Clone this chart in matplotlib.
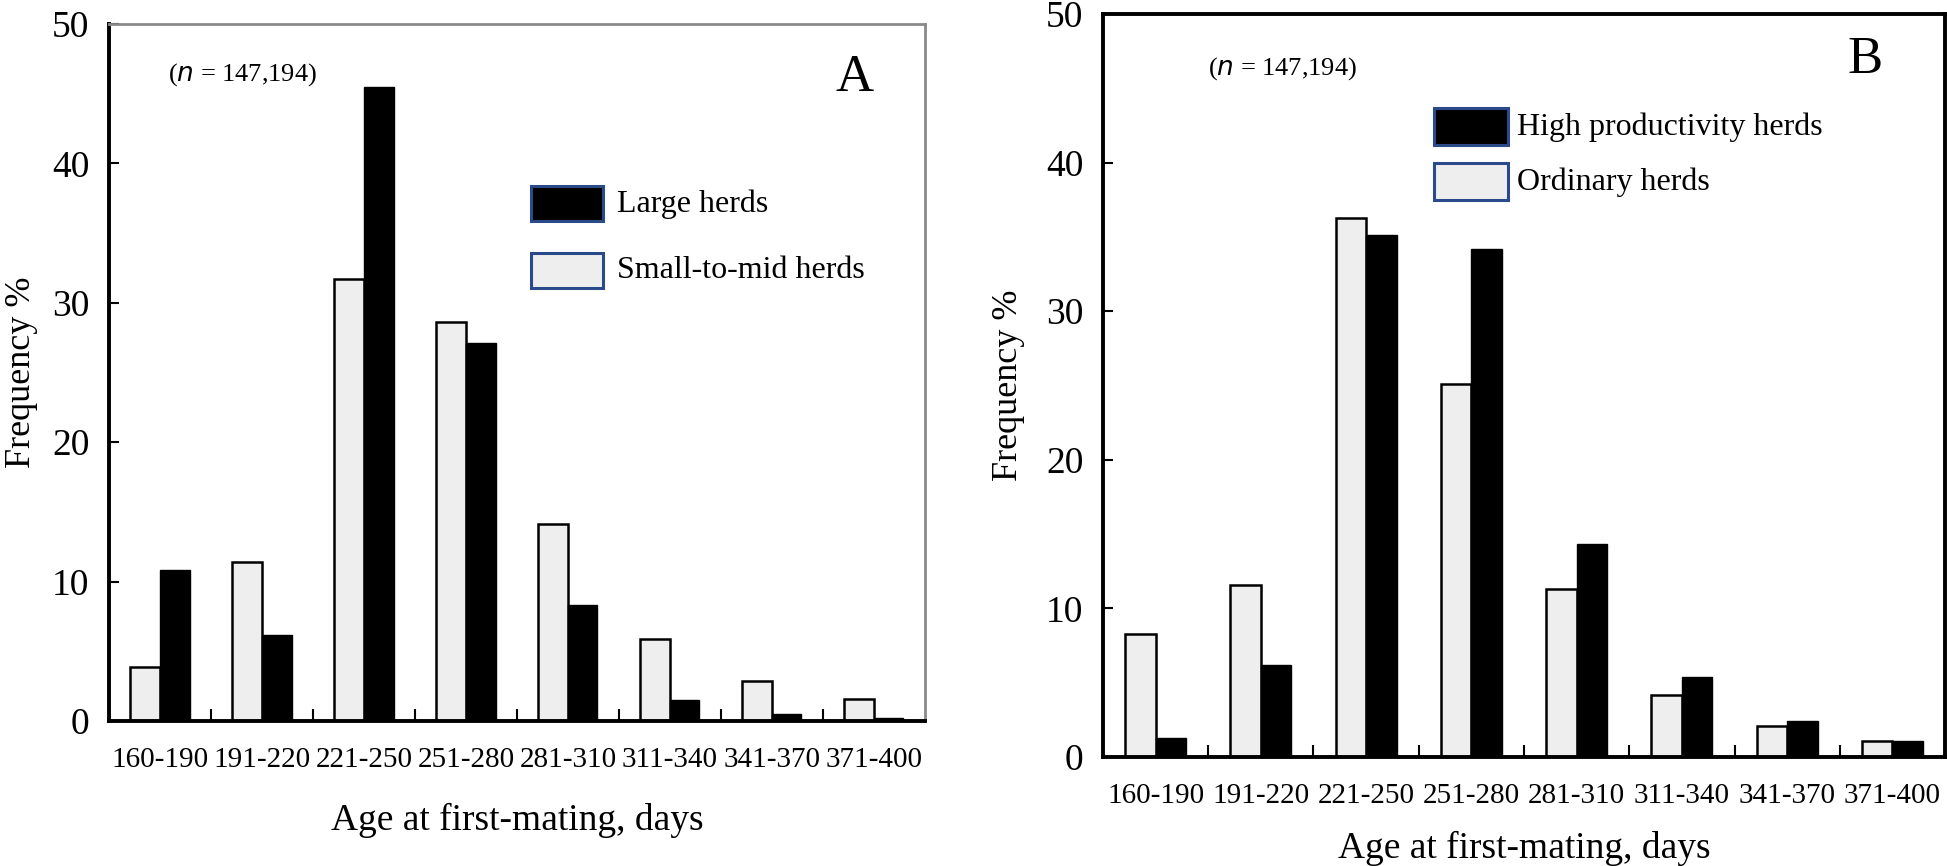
import numpy as np
import matplotlib
matplotlib.use("Agg")
import matplotlib.pyplot as plt
from matplotlib.patches import Rectangle

plt.rcParams['font.family'] = ['Liberation Serif', 'DejaVu Serif']

# data (frequency %)
age_bins = ['160-190', '191-220', '221-250', '251-280',
            '281-310', '311-340', '341-370', '371-400']

small_mid = [3.9, 11.4, 31.7, 28.6, 14.1, 5.9, 2.9, 1.6]
large = [10.8, 6.2, 45.5, 27.1, 8.3, 1.5, 0.5, 0.2]

ordinary = [8.3, 11.6, 36.3, 25.1, 11.3, 4.2, 2.1, 1.1]
high_prod = [1.3, 6.2, 35.1, 34.2, 14.3, 5.4, 2.4, 1.1]

light_col = '#eeeeee'
edge_blue = '#2b4a8c'

fig = plt.figure(figsize=(19.47, 8.66), dpi=100)
axA = fig.add_axes([0.056, 0.1674, 0.419, 0.8049])
axB = fig.add_axes([0.5665, 0.1259, 0.4325, 0.858])

x = np.arange(len(age_bins))
w = 0.29


def draw_panel(ax, light_vals, dark_vals, spine_col):
    ax.bar(x - w / 2, light_vals, w, color=light_col, edgecolor='black', linewidth=1.8)
    ax.bar(x + w / 2, dark_vals, w, color='black', edgecolor='black', linewidth=1.0)
    ax.set_xlim(-0.5, len(age_bins) - 0.5)
    ax.set_ylim(0, 50)
    ax.set_yticks([0, 10, 20, 30, 40, 50])
    ax.set_xticks(x)
    ax.set_xticklabels(age_bins, fontsize=21)
    ax.set_xticks(np.arange(0.5, len(age_bins) - 0.5, 1), minor=True)
    ax.tick_params(axis='x', which='major', length=0, pad=19)
    ax.tick_params(axis='x', which='minor', direction='in', length=9, width=1.5)
    ax.tick_params(axis='y', direction='in', length=7, width=1.5, labelsize=27, pad=14)
    for s in ['left', 'bottom']:
        ax.spines[s].set_linewidth(2.8)
        ax.spines[s].set_color('black')
    for s in ['top', 'right']:
        ax.spines[s].set_linewidth(2.0 if spine_col != 'black' else 2.8)
        ax.spines[s].set_color(spine_col)
    ax.set_ylabel('Frequency %', fontsize=26)
    ax.set_xlabel('Age at first-mating, days', fontsize=27)


def legend_box(ax, xpos, ypos, fill, label, textx):
    ax.add_patch(Rectangle((xpos, ypos - 0.025), 0.088, 0.05, transform=ax.transAxes,
                           facecolor=fill, edgecolor=edge_blue, linewidth=2.2, clip_on=False))
    ax.text(textx, ypos, label, transform=ax.transAxes, fontsize=23, va='center', ha='left')


draw_panel(axA, small_mid, large, '#8a8a8a')
draw_panel(axB, ordinary, high_prod, 'black')

axA.text(0.072, 0.927, '($\\it{n}$ = 147,194)', transform=axA.transAxes,
         fontsize=19, va='center', ha='left')
axA.text(0.914, 0.923, 'A', transform=axA.transAxes, fontsize=38, va='center', ha='center')
legend_box(axA, 0.517, 0.742, 'black', 'Large herds', 0.623)
legend_box(axA, 0.517, 0.646, light_col, 'Small-to-mid herds', 0.623)

axB.text(0.125, 0.927, '($\\it{n}$ = 147,194)', transform=axB.transAxes,
         fontsize=19, va='center', ha='left')
axB.text(0.905, 0.938, 'B', transform=axB.transAxes, fontsize=38, va='center', ha='center')
legend_box(axB, 0.393, 0.848, 'black', 'High productivity herds', 0.492)
legend_box(axB, 0.393, 0.774, light_col, 'Ordinary herds', 0.492)

axA.yaxis.set_label_coords(-0.087, 0.5)
axB.yaxis.set_label_coords(-0.093, 0.5)
axA.xaxis.set_label_coords(0.5, -0.118)
axB.xaxis.set_label_coords(0.5, -0.099)

fig.savefig('out.png', dpi=100)
